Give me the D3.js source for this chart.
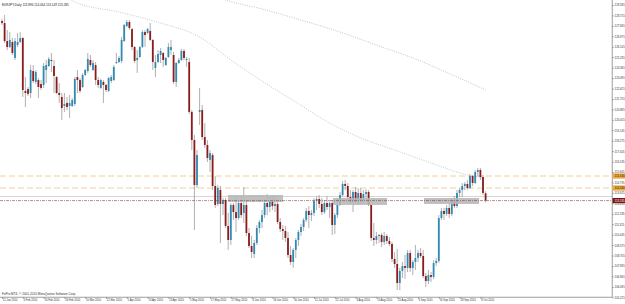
<!DOCTYPE html>
<html>
<head>
<meta charset="utf-8">
<script src="https://cdn.jsdelivr.net/npm/d3@7"></script>
<style>
  html, body { margin: 0; padding: 0; background: #fff; }
  svg { display: block; }
</style>
</head>
<body>
<div id="chart"></div>
<script>
// EURJPY daily bars (bar 0 = leftmost)
const barOpen = [
  128.25, 128.08, 126.58, 126.08, 126.50, 125.17, 126.25, 126.50, 126.83, 122.42,
  122.58, 122.25, 124.08, 123.17, 123.33, 123.00, 122.92, 124.17, 124.50, 125.00,
  124.50, 123.58, 122.25, 121.92, 121.17, 121.42, 121.17, 121.17, 121.33, 123.58,
  123.33, 122.75, 123.75, 124.08, 125.00, 124.17, 124.58, 123.33, 122.67, 123.17,
  122.92, 122.42, 123.25, 123.33, 124.75, 124.83, 124.92, 126.58, 127.83, 128.17,
  127.58, 126.08, 125.00, 125.25, 126.08, 127.33, 127.25, 127.42, 126.67, 124.33,
  124.83, 125.42, 125.58, 124.58, 125.25, 125.83, 125.42, 123.17, 124.75, 125.00,
  125.75, 125.00, 124.83, 120.67, 118.33, 114.58, 120.67, 120.83, 118.58, 117.92,
  116.67, 117.08, 114.50, 113.00, 114.17, 113.00, 113.33, 111.17, 110.00, 112.92,
  112.33, 111.83, 113.08, 112.25, 112.92, 110.58, 109.50, 108.83, 109.75, 111.00,
  111.50, 112.08, 113.08, 112.75, 113.25, 112.83, 113.00, 111.50, 110.92, 110.75,
  110.17, 108.75, 108.17, 109.17, 110.00, 110.67, 111.08, 111.67, 112.42, 112.08,
  112.25, 113.25, 113.42, 113.00, 112.33, 113.08, 112.75, 113.08, 111.25, 112.08,
  112.92, 113.75, 114.67, 114.50, 113.58, 113.17, 114.00, 113.17, 113.92, 113.33,
  113.83, 114.00, 112.92, 110.17, 110.00, 110.33, 110.42, 109.83, 110.33, 109.92,
  109.67, 108.42, 108.00, 106.42, 107.42, 107.83, 107.67, 108.92, 107.67, 108.17,
  108.50, 108.92, 108.67, 107.00, 106.58, 107.08, 106.92, 108.08, 108.25, 111.83,
  112.42, 112.17, 112.67, 112.17, 113.33, 112.83, 113.92, 114.17, 114.50, 114.67,
  114.33, 115.33, 114.75, 115.67, 115.83, 115.25, 113.894
];
const barHigh = [
  128.42, 128.75, 127.50, 127.33, 126.83, 126.83, 127.25, 127.33, 126.92, 123.58,
  122.75, 124.58, 124.58, 124.17, 123.50, 123.33, 124.75, 125.00, 125.25, 125.58,
  125.00, 123.67, 123.08, 122.25, 122.25, 121.92, 122.08, 121.83, 123.58, 124.17,
  123.50, 123.92, 124.25, 125.58, 125.42, 125.00, 124.83, 123.58, 123.42, 123.33,
  123.00, 123.58, 123.75, 124.58, 125.58, 125.33, 126.92, 128.00, 128.33, 128.33,
  127.67, 126.17, 125.83, 126.17, 127.50, 127.50, 127.67, 128.08, 126.75, 125.42,
  125.83, 126.00, 125.67, 125.25, 126.42, 126.67, 125.67, 124.83, 125.17, 125.92,
  125.92, 125.25, 125.17, 120.83, 118.75, 117.50, 122.67, 121.25, 119.75, 118.33,
  117.50, 117.25, 115.33, 114.58, 114.50, 113.50, 113.50, 112.25, 113.08, 113.08,
  113.58, 113.33, 113.75, 114.42, 113.33, 111.00, 110.33, 110.00, 111.25, 111.67,
  112.50, 113.33, 113.83, 113.67, 113.75, 113.67, 113.17, 111.83, 111.25, 111.17,
  110.67, 109.50, 109.33, 110.17, 110.83, 111.33, 111.83, 112.67, 112.83, 112.50,
  113.50, 113.67, 113.75, 113.50, 113.33, 113.67, 113.33, 113.33, 112.25, 113.50,
  114.00, 114.92, 115.00, 114.75, 114.17, 114.17, 114.42, 114.33, 114.33, 114.17,
  114.25, 114.17, 113.00, 111.42, 110.67, 110.50, 110.58, 110.67, 110.50, 110.25,
  109.83, 109.00, 109.25, 107.67, 108.17, 108.75, 109.17, 109.17, 108.33, 109.58,
  109.17, 109.33, 109.17, 107.25, 107.50, 107.33, 108.33, 108.50, 112.08, 112.67,
  112.67, 112.92, 113.17, 113.50, 113.67, 114.17, 114.33, 114.75, 114.83, 115.00,
  115.50, 115.42, 115.83, 116.00, 116.00, 115.42, 114.064
];
const barLow = [
  127.92, 126.42, 125.83, 126.00, 125.42, 125.00, 126.08, 126.42, 121.92, 121.08,
  122.00, 121.83, 123.08, 123.00, 121.83, 122.50, 122.67, 123.08, 124.42, 124.00,
  122.25, 122.17, 121.42, 120.00, 120.67, 120.83, 120.17, 121.08, 121.17, 122.25,
  122.25, 122.67, 123.67, 123.92, 124.42, 124.08, 122.92, 122.67, 122.58, 121.42,
  122.33, 122.33, 123.08, 123.25, 124.67, 124.75, 124.75, 126.50, 127.75, 127.50,
  125.83, 124.75, 123.92, 125.17, 126.00, 126.08, 127.17, 126.58, 124.17, 123.58,
  124.75, 124.75, 124.42, 124.50, 125.17, 125.42, 123.00, 122.75, 124.67, 124.92,
  125.00, 124.42, 120.50, 117.50, 110.83, 114.33, 119.58, 118.33, 117.67, 116.50,
  115.67, 114.17, 112.67, 112.83, 109.75, 112.08, 111.00, 109.17, 109.58, 111.67,
  110.67, 111.67, 111.83, 111.42, 110.33, 109.33, 108.50, 108.50, 109.58, 110.58,
  111.00, 111.83, 112.08, 112.33, 112.50, 112.33, 111.33, 110.67, 110.00, 109.83,
  108.50, 107.92, 107.67, 108.50, 109.50, 110.33, 110.75, 111.50, 111.00, 111.58,
  112.00, 112.50, 112.67, 112.08, 112.17, 112.50, 111.83, 110.42, 110.50, 111.83,
  112.83, 113.58, 114.17, 113.33, 113.00, 112.33, 113.00, 112.92, 113.00, 113.08,
  113.33, 112.83, 109.92, 109.50, 109.67, 109.75, 109.42, 109.58, 109.67, 109.50,
  108.17, 107.67, 105.83, 105.83, 106.83, 106.75, 107.33, 107.33, 107.08, 107.50,
  108.17, 108.50, 106.83, 106.08, 106.33, 106.50, 106.75, 107.83, 108.08, 111.67,
  111.67, 112.00, 111.83, 112.00, 112.67, 112.67, 113.58, 113.58, 114.17, 114.17,
  114.25, 114.50, 114.67, 115.33, 115.00, 113.75, 113.149
];
const barClose = [
  128.08, 126.58, 126.08, 126.67, 125.58, 126.58, 126.50, 126.83, 122.50, 122.25,
  122.17, 124.17, 123.25, 124.00, 122.75, 122.67, 124.50, 124.58, 125.08, 124.92,
  123.67, 122.25, 122.08, 121.00, 121.33, 121.08, 121.42, 121.67, 123.42, 123.33,
  122.42, 123.75, 124.17, 125.08, 124.58, 124.75, 123.33, 122.92, 123.33, 122.92,
  122.50, 123.50, 123.58, 124.42, 124.83, 125.17, 126.67, 127.92, 128.17, 127.67,
  126.08, 124.92, 125.17, 126.08, 127.33, 127.08, 127.58, 126.67, 124.83, 124.83,
  125.50, 125.75, 125.00, 125.17, 126.08, 126.08, 123.17, 124.75, 125.00, 125.75,
  125.17, 125.08, 120.67, 118.33, 114.58, 117.08, 120.83, 118.58, 117.92, 116.83,
  117.25, 114.50, 112.92, 114.33, 113.00, 113.33, 111.17, 110.00, 112.92, 112.33,
  111.83, 113.08, 112.08, 112.92, 110.58, 109.50, 109.00, 109.75, 111.00, 111.50,
  112.08, 113.08, 112.75, 113.25, 112.83, 113.00, 111.50, 110.92, 110.75, 110.17,
  108.75, 108.17, 109.17, 110.00, 110.67, 111.08, 111.67, 112.42, 112.08, 112.25,
  113.25, 113.42, 113.00, 112.33, 113.08, 112.75, 113.08, 111.25, 112.08, 112.92,
  113.75, 114.67, 114.50, 113.58, 113.17, 114.00, 113.17, 113.92, 113.33, 113.83,
  114.00, 112.92, 110.17, 110.00, 110.33, 110.42, 109.83, 110.33, 109.92, 109.67,
  108.42, 108.00, 106.42, 107.42, 107.83, 107.67, 108.92, 107.67, 108.17, 108.50,
  108.92, 108.67, 107.00, 106.58, 107.08, 106.92, 108.08, 108.25, 111.83, 112.42,
  112.17, 112.67, 112.17, 113.33, 112.83, 113.92, 114.17, 114.50, 114.67, 114.33,
  115.33, 114.75, 115.67, 115.83, 115.25, 113.92, 113.285
];

// moving averages (dotted), sampled as [bar, price]
const maFast = [
  [26, 130.10], [28, 129.83], [45, 129.00], [61, 128.08], [76, 126.92], [88, 125.00],
  [100, 123.25], [113, 121.50], [126, 119.75], [138, 118.50], [151, 117.50],
  [165, 116.42], [179, 115.42], [186, 115.17]
];
const maSlow = [
  [84, 130.15], [86, 130.00], [100, 129.25], [115, 128.33], [130, 127.33],
  [145, 126.17], [160, 125.00], [175, 123.58], [186, 122.50]
];

// horizontal levels
const orangeLevels = [115.33, 114.33];
const greyLevel = 113.62;
const bidPrice = 113.285;

// grey zones: bar from, bar to, top, bottom
const zoneFrom = [86.9, 127.3, 162.3];
const zoneTo = [108.1, 148.1, 183.5];
const zoneTop = [113.75, 113.50, 113.50];
const zoneBottom = [113.17, 112.92, 113.00];

// axis labels
const priceTicks = [
  129.585, 128.715, 127.845, 126.975, 126.105, 125.235, 124.365, 123.495, 122.625,
  121.755, 120.885, 120.015, 119.145, 118.275, 117.405, 116.535, 115.665, 114.795,
  113.925, 113.055, 112.185, 111.315, 110.445, 109.575, 108.705, 107.835, 106.965,
  106.095, 105.225
];
const dateBars = [0, 8, 16, 24, 32, 40, 48, 56, 64, 72, 80, 88, 96, 104, 112, 120,
  128, 136, 144, 152, 160, 168, 176, 184];
const dateLabels = [
  "21 Jan 2010", "4 Feb 2010", "16 Feb 2010", "26 Feb 2010", "10 Mar 2010",
  "22 Mar 2010", "1 Apr 2010", "13 Apr 2010", "23 Apr 2010", "5 May 2010",
  "17 May 2010", "27 May 2010", "8 Jun 2010", "18 Jun 2010", "30 Jun 2010",
  "12 Jul 2010", "22 Jul 2010", "3 Aug 2010", "13 Aug 2010", "25 Aug 2010",
  "6 Sep 2010", "16 Sep 2010", "28 Sep 2010", "8 Oct 2010"
];
const titleText = "EURJPY,Daily  113.894 114.064 113.149 113.285";
const footText = "FxPro MT4, \u00a9 2001-2010 MetaQuotes Software Corp.";

(function() {
  const W = 625, H = 304;
  const PLOT_R = 612, PLOT_B = 297;
  const BULL = "#2f8ab4", BEAR = "#8c1c1c", WICK = "#9c9c9c";
  const FONT = "Liberation Sans, Arial, sans-serif";

  const svg = d3.select("#chart")
    .append("svg")
    .attr("width", W)
    .attr("height", H)
    .style("background", "#fff");

  svg.append("defs").append("clipPath")
    .attr("id", "plotclip")
    .append("rect")
    .attr("x", 0).attr("y", 0)
    .attr("width", PLOT_R).attr("height", PLOT_B);

  const x = d3.scaleLinear().domain([0, 186]).range([2, 485.6]);
  const y = d3.scaleLinear().domain([105.25, 130]).range([PLOT_B, 0]);

  const plot = svg.append("g").attr("clip-path", "url(#plotclip)");

  // orange dashed levels
  plot.selectAll("line.lvl")
    .data(orangeLevels)
    .enter()
    .append("line")
    .attr("class", "lvl")
    .attr("x1", 0).attr("x2", PLOT_R)
    .attr("y1", d => y(d)).attr("y2", d => y(d))
    .attr("stroke", "#f2c98f")
    .attr("stroke-width", 0.9)
    .attr("stroke-dasharray", "6,3");

  // thin grey level
  plot.append("line")
    .attr("x1", 0).attr("x2", PLOT_R)
    .attr("y1", y(greyLevel)).attr("y2", y(greyLevel))
    .attr("stroke", "#cfc8c8")
    .attr("stroke-width", 0.8);

  // moving averages
  const maLine = d3.line()
    .x(d => x(d[0]))
    .y(d => y(d[1]))
    .curve(d3.curveMonotoneX);

  plot.append("path")
    .attr("d", maLine(maSlow))
    .attr("fill", "none")
    .attr("stroke", "#a9a9a9")
    .attr("stroke-width", 0.7)
    .attr("stroke-dasharray", "1,1.3");

  plot.append("path")
    .attr("d", maLine(maFast))
    .attr("fill", "none")
    .attr("stroke", "#9db4bb")
    .attr("stroke-width", 0.7)
    .attr("stroke-dasharray", "1,1.3");

  // candles
  const bars = d3.range(barClose.length).map(i => ({
    i, o: barOpen[i], h: barHigh[i], l: barLow[i], c: barClose[i]
  }));

  plot.selectAll("line.wick")
    .data(bars)
    .enter()
    .append("line")
    .attr("class", "wick")
    .attr("x1", d => x(d.i)).attr("x2", d => x(d.i))
    .attr("y1", d => y(d.h)).attr("y2", d => y(d.l))
    .attr("stroke", WICK)
    .attr("stroke-width", 0.8);

  plot.selectAll("rect.body")
    .data(bars)
    .enter()
    .append("rect")
    .attr("class", "body")
    .attr("x", d => x(d.i) - 0.9)
    .attr("width", 1.8)
    .attr("y", d => y(Math.max(d.o, d.c)))
    .attr("height", d => Math.max(0.7, Math.abs(y(d.o) - y(d.c))))
    .attr("fill", d => d.c >= d.o ? BULL : BEAR);

  // grey zones on top
  plot.selectAll("rect.zone")
    .data(zoneFrom.map((f, k) => ({ f, t: zoneTo[k], top: zoneTop[k], bot: zoneBottom[k] })))
    .enter()
    .append("rect")
    .attr("class", "zone")
    .attr("x", d => x(d.f))
    .attr("width", d => x(d.t) - x(d.f))
    .attr("y", d => y(d.top))
    .attr("height", d => y(d.bot) - y(d.top))
    .attr("fill", "#b7b7b7")
    .attr("opacity", 0.88);

  // bid line (dash-dot)
  plot.append("line")
    .attr("x1", 0).attr("x2", PLOT_R)
    .attr("y1", y(bidPrice)).attr("y2", y(bidPrice))
    .attr("stroke", "#8e4040")
    .attr("stroke-width", 0.6)
    .attr("stroke-dasharray", "3,1,1,1");

  // right price axis
  const yAxis = svg.append("g")
    .attr("transform", `translate(${PLOT_R},0)`)
    .call(d3.axisRight(y).tickValues(priceTicks).tickSize(2).tickFormat(d3.format(".3f")));
  yAxis.select(".domain").remove();
  yAxis.selectAll(".tick line").attr("stroke", "#666").attr("stroke-width", 0.5);
  yAxis.selectAll(".tick text")
    .attr("x", 2.6)
    .style("font-family", FONT)
    .style("font-size", "2.8px")
    .style("fill", "#333");

  // bottom time axis
  const xAxis = svg.append("g")
    .attr("transform", `translate(0,${PLOT_B})`)
    .call(d3.axisBottom(x).tickValues(dateBars).tickSize(2).tickFormat((d, k) => dateLabels[k]));
  xAxis.select(".domain").remove();
  xAxis.selectAll(".tick line").attr("stroke", "#666").attr("stroke-width", 0.5);
  xAxis.selectAll(".tick text")
    .attr("text-anchor", "start")
    .attr("x", 0.3)
    .attr("y", 2.2)
    .attr("dy", "0.75em")
    .style("font-family", FONT)
    .style("font-size", "2.7px")
    .style("fill", "#333");

  // frame
  svg.append("line")
    .attr("x1", PLOT_R + 0.25).attr("x2", PLOT_R + 0.25)
    .attr("y1", 0).attr("y2", PLOT_B)
    .attr("stroke", "#777").attr("stroke-width", 0.7);
  svg.append("line")
    .attr("x1", 0).attr("x2", PLOT_R + 0.6)
    .attr("y1", PLOT_B + 0.25).attr("y2", PLOT_B + 0.25)
    .attr("stroke", "#777").attr("stroke-width", 0.7);

  // price boxes on the axis
  const boxes = orangeLevels.map(v => ({ v, fill: "#f0a83c", txt: "#222" }))
    .concat([{ v: bidPrice, fill: "#7a1616", txt: "#fff" }]);
  const boxG = svg.selectAll("g.pbox")
    .data(boxes)
    .enter()
    .append("g")
    .attr("class", "pbox")
    .attr("transform", d => `translate(${PLOT_R + 0.5},${y(d.v)})`);
  boxG.append("rect")
    .attr("x", 0).attr("y", -2.6)
    .attr("width", 12.5).attr("height", 5.2)
    .attr("fill", d => d.fill);
  boxG.append("text")
    .attr("x", 2.1).attr("y", 1)
    .style("font-family", FONT)
    .style("font-size", "2.8px")
    .style("fill", d => d.txt)
    .text(d => d3.format(".3f")(d.v));

  // title + footer
  svg.append("text")
    .attr("x", 2).attr("y", 5.6)
    .style("font-family", FONT)
    .style("font-size", "3.1px")
    .style("fill", "#222")
    .text(titleText);

  svg.append("text")
    .attr("x", 2).attr("y", 295)
    .style("font-family", FONT)
    .style("font-size", "3.1px")
    .style("fill", "#333")
    .text(footText);
})();
</script>
</body>
</html>
